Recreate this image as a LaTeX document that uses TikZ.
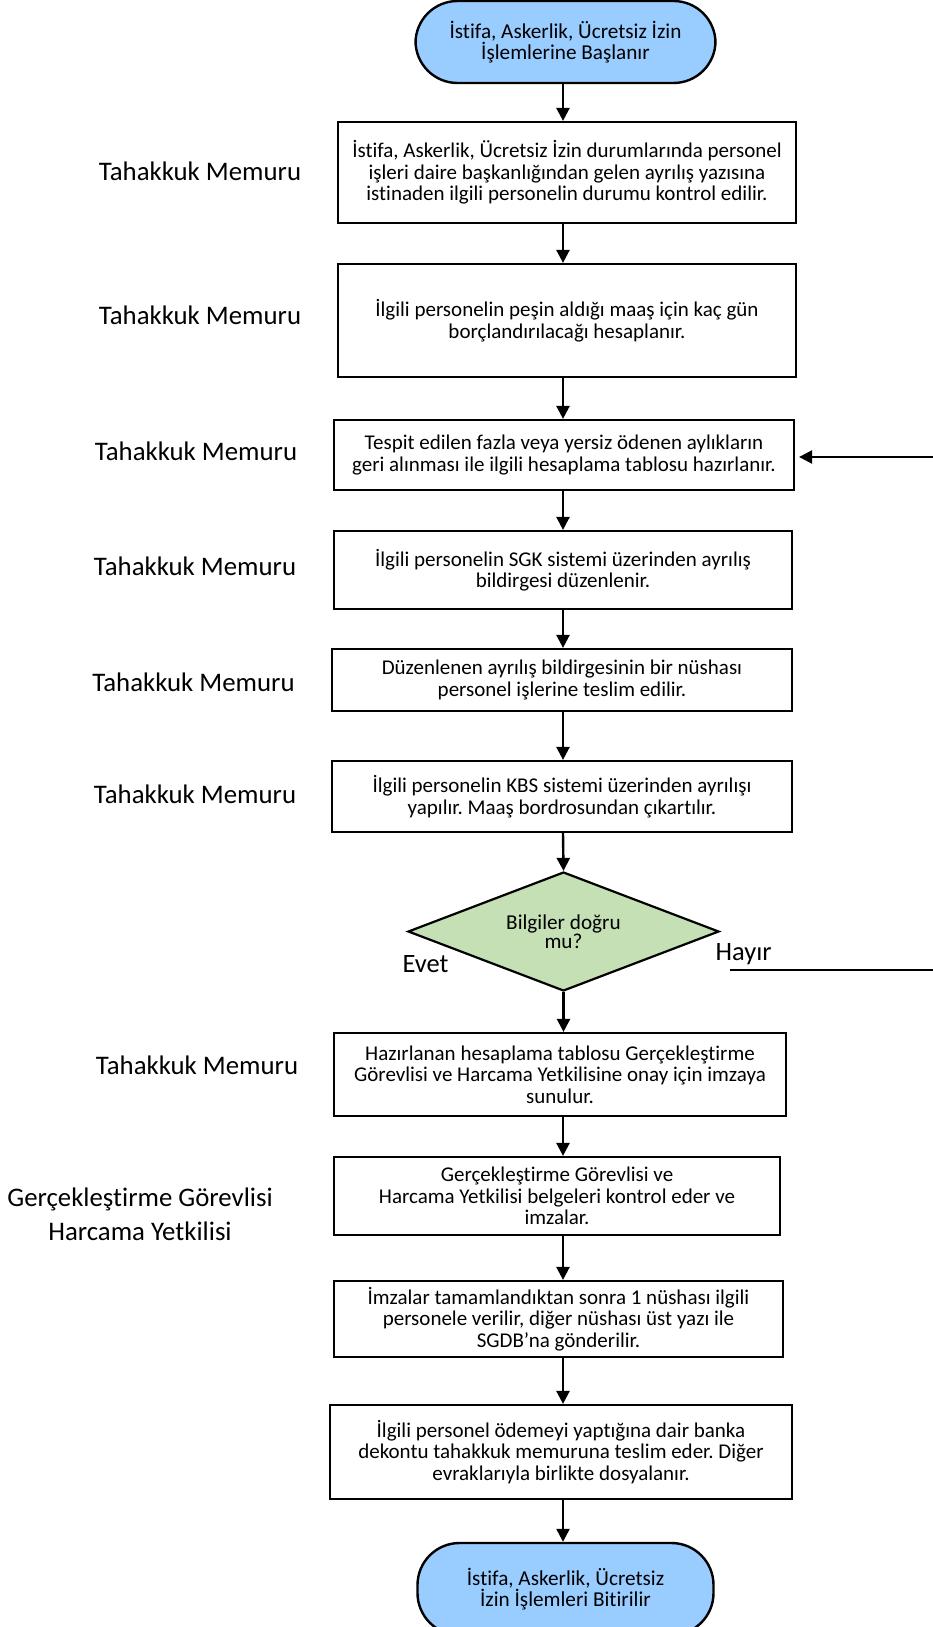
\documentclass[tikz,border=0pt]{standalone}
\usepackage{fontspec}
\setmainfont{Carlito}[Ligatures=NoCommon]
\usetikzlibrary{arrows.meta,shapes.geometric}
\definecolor{termblue}{RGB}{153,204,255}
\definecolor{decgreen}{RGB}{197,224,180}
\frenchspacing
\tikzset{
  stepbox/.style={draw=black, line width=2.2pt, fill=white, rectangle, align=center, inner sep=0pt,
    font=\fontsize{21}{21.5}\selectfont},
  term/.style={draw=black, line width=2.4pt, fill=termblue, rectangle, rounded corners=42pt, align=center,
    inner sep=0pt, font=\fontsize{21.2}{20.5}\selectfont},
  decision/.style={draw=black, line width=2.2pt, fill=decgreen, diamond, aspect=2.6, align=center,
    inner sep=0pt, font=\fontsize{21.2}{19.5}\selectfont},
  role/.style={align=center, inner sep=0pt, font=\fontsize{26.8}{34}\selectfont},
  lbl/.style={inner sep=0pt, font=\fontsize{26.5}{30}\selectfont},
  arr/.style={line width=2.4pt, -{Triangle[width=13pt,length=13pt]}},
  plain/.style={line width=2.4pt},
}
\begin{document}
\begin{tikzpicture}[x=1pt,y=-1pt]
\useasboundingbox (0,0) rectangle (933,1627);
\coordinate (axis) at (563,0);

\node[term, minimum width=300pt, minimum height=82pt] (start) at (565.5,42)
  {İstifa, Askerlik, Ücretsiz İzin\\İşlemlerine Başlanır};

\node[stepbox, minimum width=458pt, minimum height=101pt] (b1) at (567,172.5)
  {İstifa, Askerlik, Ücretsiz İzin durumlarında personel\\işleri daire başkanlığından gelen ayrılış yazısına\\istinaden ilgili personelin durumu kontrol edilir.};
\node[stepbox, minimum width=458pt, minimum height=113pt] (b2) at (567,320.5)
  {İlgili personelin peşin aldığı maaş için kaç gün\\borçlandırılacağı hesaplanır.};
\node[stepbox, minimum width=460pt, minimum height=70pt] (b3) at (564,455)
  {Tespit edilen fazla veya yersiz ödenen aylıkların\\geri alınması ile ilgili hesaplama tablosu hazırlanır.};
\node[stepbox, minimum width=458pt, minimum height=78pt] (b4) at (563,570)
  {İlgili personelin SGK sistemi üzerinden ayrılış\\bildirgesi düzenlenir.};
\node[stepbox, minimum width=460pt, minimum height=62pt] (b5) at (562,680)
  {Düzenlenen ayrılış bildirgesinin bir nüshası\\personel işlerine teslim edilir.};
\node[stepbox, minimum width=460pt, minimum height=71pt] (b6) at (562,796.5)
  {İlgili personelin KBS sistemi üzerinden ayrılışı\\yapılır. Maaş bordrosundan çıkartılır.};
\node[decision, minimum width=311pt, minimum height=119pt] (d) at (563.5,931.5)
  {Bilgiler doğru\\mu?};
\node[stepbox, minimum width=452pt, minimum height=83pt] (b7) at (560,1074.5)
  {Hazırlanan hesaplama tablosu Gerçekleştirme\\Görevlisi ve Harcama Yetkilisine onay için imzaya\\sunulur.};
\node[stepbox, minimum width=446pt, minimum height=78pt] (b8) at (557,1196)
  {Gerçekleştirme Görevlisi ve\\Harcama Yetkilisi belgeleri kontrol eder ve\\imzalar.};
\node[stepbox, minimum width=449pt, minimum height=76pt] (b9) at (558.5,1319)
  {İmzalar tamamlandıktan sonra 1 nüshası ilgili\\personele verilir, diğer nüshası üst yazı ile\\SGDB’na gönderilir.};
\node[stepbox, minimum width=462pt, minimum height=94pt] (b10) at (561,1452)
  {İlgili personel ödemeyi yaptığına dair banka\\dekontu tahakkuk memuruna teslim eder. Diğer\\evraklarıyla birlikte dosyalanır.};
\node[term, minimum width=296pt, minimum height=92pt] (end) at (565.5,1589)
  {İstifa, Askerlik, Ücretsiz\\İzin İşlemleri Bitirilir};

% role labels
\node[role] (r1) at (200,171) {Tahakkuk Memuru};
\node[role] (r2) at (200,315) {Tahakkuk Memuru};
\node[role] (r3) at (196,451) {Tahakkuk Memuru};
\node[role] (r4) at (195,566) {Tahakkuk Memuru};
\node[role] (r5) at (193.5,682) {Tahakkuk Memuru};
\node[role] (r6) at (195,794) {Tahakkuk Memuru};
\node[role] (r7) at (197,1065) {Tahakkuk Memuru};
\node[role] (r8) at (140,1214) {Gerçekleştirme Görevlisi\\Harcama Yetkilisi};

\node[lbl] (evet) at (425.5,964) {Evet};
\node[lbl] (hayir) at (743.6,954) {Hayır};

% vertical flow
\draw[arr] (start.south -| axis) -- (b1.north -| axis);
\draw[arr] (b1.south -| axis) -- (b2.north -| axis);
\draw[arr] (b2.south -| axis) -- (b3.north -| axis);
\draw[arr] (b3.south -| axis) -- (b4.north -| axis);
\draw[arr] (b4.south -| axis) -- (b5.north -| axis);
\draw[arr] (b5.south -| axis) -- (b6.north -| axis);
\draw[arr] (b6.south -| axis) -- (d.north);
\draw[arr] (d.south) -- (b7.north -| d.south);
\draw[arr] (b7.south -| axis) -- (b8.north -| axis);
\draw[arr] (b8.south -| axis) -- (b9.north -| axis);
\draw[arr] (b9.south -| axis) -- (b10.north -| axis);
\draw[arr] (b10.south -| axis) -- (end.north -| axis);

% feedback
\coordinate (fbR) at (935,457);
\draw[arr, shorten >=4pt] (fbR) -- (b3.east |- fbR);
\coordinate (hL) at (730,970);
\coordinate (hR) at (935,970);
\draw[plain] (hL) -- (hR);
\end{tikzpicture}
\end{document}
